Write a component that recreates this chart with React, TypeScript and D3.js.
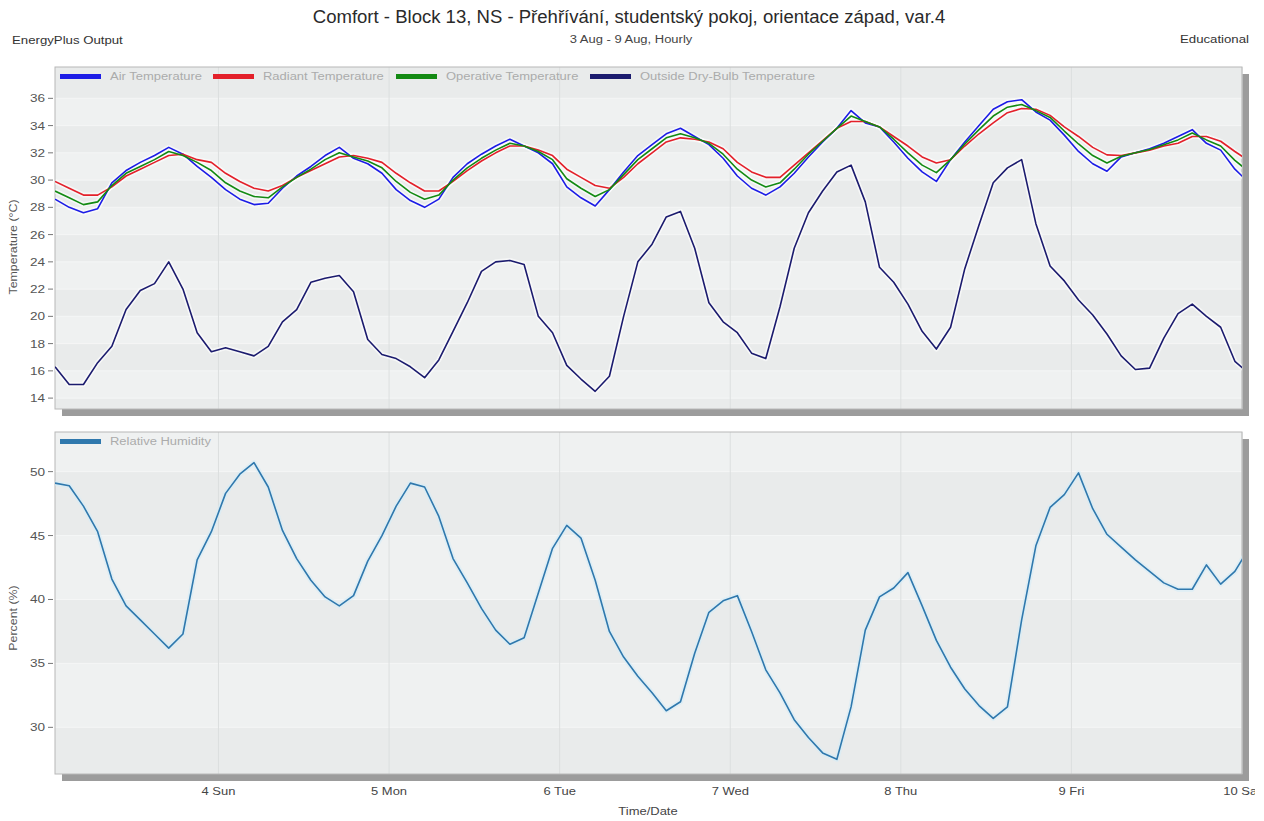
import React from "react";
import * as d3 from "d3";

// time axis: hourly run 3 Aug 01:00 .. 10 Aug 00:00, values read every 2 hours
const startDate = new Date(2013, 7, 3, 1, 0);
const endDate = new Date(2013, 7, 10, 0, 0);
const stepHours = 2;

const airTemp = [
  28.6, 28.0, 27.6, 27.9, 29.8, 30.7, 31.3, 31.8, 32.4, 31.9,
  31.0, 30.2, 29.3, 28.6, 28.2, 28.3, 29.4, 30.3, 31.0, 31.8,
  32.4, 31.6, 31.2, 30.5, 29.3, 28.5, 28.0, 28.6, 30.2, 31.2,
  31.9, 32.5, 33.0, 32.5, 32.0, 31.2, 29.5, 28.7, 28.1, 29.3,
  30.6, 31.8, 32.6, 33.4, 33.8, 33.2, 32.6, 31.6, 30.3, 29.4,
  28.9, 29.5, 30.5, 31.7, 32.8, 33.8, 35.1, 34.2, 33.9, 32.8,
  31.6, 30.6, 29.9, 31.5, 32.8, 34.0, 35.2, 35.75, 35.9, 35.0,
  34.4, 33.3, 32.1, 31.2, 30.65, 31.7, 32.0, 32.3, 32.7, 33.2,
  33.7, 32.7, 32.2, 30.8, 29.8,
];

const radiantTemp = [
  29.9, 29.4, 28.9, 28.9, 29.5, 30.3, 30.8, 31.3, 31.8, 31.9,
  31.5, 31.3, 30.5, 29.9, 29.4, 29.2, 29.6, 30.2, 30.7, 31.2,
  31.7, 31.8, 31.6, 31.3, 30.5, 29.8, 29.2, 29.2, 29.9, 30.7,
  31.4, 32.0, 32.5, 32.5, 32.2, 31.8, 30.8, 30.2, 29.6, 29.4,
  30.2, 31.2, 32.0, 32.8, 33.1, 33.0, 32.8, 32.3, 31.3, 30.6,
  30.2, 30.2, 31.1, 32.0, 32.9, 33.8, 34.3, 34.3, 33.9, 33.2,
  32.5, 31.7, 31.25, 31.5, 32.5, 33.4, 34.2, 34.95, 35.25, 35.2,
  34.75, 33.9, 33.2, 32.4, 31.85, 31.8, 32.0, 32.2, 32.5, 32.7,
  33.2, 33.2, 32.85, 32.1, 31.4,
];

const operativeTemp = [
  29.2, 28.7, 28.2, 28.4, 29.6, 30.5, 31.0, 31.5, 32.1, 31.8,
  31.3, 30.7, 29.8, 29.2, 28.8, 28.7, 29.5, 30.2, 30.8, 31.5,
  32.0, 31.7, 31.4, 30.9, 29.9, 29.1, 28.6, 28.9, 30.0, 30.9,
  31.6, 32.2, 32.7, 32.5, 32.1, 31.5, 30.1, 29.4, 28.8, 29.3,
  30.4, 31.5, 32.3, 33.1, 33.4, 33.1, 32.7, 31.9, 30.8, 30.0,
  29.5, 29.8, 30.8, 31.9, 32.85, 33.8, 34.7, 34.3, 33.9, 33.0,
  32.0, 31.1, 30.55, 31.5, 32.65, 33.7, 34.7, 35.35, 35.55, 35.1,
  34.6, 33.6, 32.65, 31.8, 31.25, 31.75, 32.0, 32.25, 32.6, 32.95,
  33.45, 32.95, 32.5, 31.45, 30.6,
];

const outsideTemp = [
  16.3, 15.0, 15.0, 16.6, 17.8, 20.5, 21.9, 22.4, 24.0, 22.0,
  18.8, 17.4, 17.7, 17.4, 17.1, 17.8, 19.6, 20.5, 22.5, 22.8,
  23.0, 21.8, 18.3, 17.2, 16.9, 16.3, 15.5, 16.8, 18.9, 21.0,
  23.3, 24.0, 24.1, 23.8, 20.0, 18.8, 16.4, 15.4, 14.5, 15.6,
  20.0, 24.0, 25.3, 27.3, 27.7, 25.0, 21.0, 19.6, 18.8, 17.3,
  16.9, 20.7, 25.0, 27.6, 29.2, 30.6, 31.1, 28.4, 23.6, 22.5,
  20.9, 18.9, 17.6, 19.2, 23.5, 26.7, 29.8, 30.9, 31.5, 26.8,
  23.7, 22.6, 21.2, 20.1, 18.7, 17.1, 16.1, 16.2, 18.4, 20.2,
  20.9, 20.0, 19.2, 16.7, 15.8,
];

const relHumidity = [
  49.1, 48.9, 47.3, 45.3, 41.6, 39.5, 38.4, 37.3, 36.2, 37.3,
  43.1, 45.3, 48.3, 49.8, 50.7, 48.8, 45.4, 43.2, 41.5, 40.2,
  39.5, 40.3, 43.0, 45.0, 47.3, 49.1, 48.8, 46.5, 43.2, 41.3,
  39.3, 37.6, 36.5, 37.0, 40.5, 44.0, 45.8, 44.8, 41.5, 37.5,
  35.5, 34.0, 32.7, 31.3, 32.0, 35.8, 39.0, 39.9, 40.3, 37.5,
  34.5, 32.7, 30.6, 29.2, 28.0, 27.5, 31.6, 37.6, 40.2, 40.9,
  42.1, 39.5, 36.8, 34.7, 33.0, 31.7, 30.7, 31.6, 38.4, 44.2,
  47.2, 48.2, 49.9, 47.1, 45.1, 44.1, 43.1, 42.2, 41.3, 40.8,
  40.8, 42.7, 41.2, 42.2, 44.0,
];

const tempTicks = [14, 16, 18, 20, 22, 24, 26, 28, 30, 32, 34, 36];
const rhTicks = [30, 35, 40, 45, 50];
const tempDomain = [13.2, 38.3];
const rhDomain = [26.35, 53.1];

const tempSeries = [
  { name: "Air Temperature", values: airTemp, color: "#1c1ce6" },
  { name: "Radiant Temperature", values: radiantTemp, color: "#e3202a" },
  { name: "Operative Temperature", values: operativeTemp, color: "#138a13" },
  { name: "Outside Dry-Bulb Temperature", values: outsideTemp, color: "#1b1b6e" },
];
const rhSeries = [{ name: "Relative Humidity", values: relHumidity, color: "#2f78ad" }];

const W = 1255;
const H = 821;
const left = 55;
const right = 1242;
const FONT = "'Liberation Sans', Arial, sans-serif";
const SX = 1.18;

const times = airTemp.map((_, i) => d3.timeHour.offset(startDate, i * stepHours));
const x = d3.scaleTime().domain([startDate, endDate]).range([left, right]);
const dayTicks = x.ticks(d3.timeDay.every(1));
const fmtDay = d3.timeFormat("%-d %a");

const SText = ({ x, y, size, fill = "#444", anchor = "start", rotate = 0, sx = SX, children }: any) => (
  <text
    transform={`translate(${x},${y}) rotate(${rotate}) scale(${sx},1)`}
    fontSize={size}
    fill={fill}
    textAnchor={anchor}
    fontFamily={FONT}
  >
    {children}
  </text>
);

const Panel = ({ id, top, bottom, domain, ticks, series, legendX, yTitle, titleY, halo }: any) => {
  const y = d3.scaleLinear().domain(domain).range([bottom, top]);
  const bounds = [domain[0], ...ticks, domain[1]];
  const line = d3
    .line<number>()
    .x((_, i) => x(times[i]))
    .y((d) => y(d));
  const w = right - left;
  const h = bottom - top;
  return (
    <g>
      <defs>
        <clipPath id={`clip-${id}`}>
          <rect x={left} y={top} width={w} height={h} />
        </clipPath>
      </defs>
      {/* drop shadow */}
      <rect x={left + 7} y={top + 7} width={w} height={h} fill="#9c9c9c" />
      <rect x={left} y={top} width={w} height={h} fill="#eceeee" />
      {bounds.slice(0, -1).map((b: number, i: number) => (
        <rect
          key={i}
          x={left}
          width={w}
          y={y(bounds[i + 1])}
          height={y(b) - y(bounds[i + 1])}
          fill={i % 2 === 0 ? "#e9ebeb" : "#eff1f1"}
        />
      ))}
      {ticks.map((t: number) => (
        <line key={t} x1={left} x2={right} y1={y(t)} y2={y(t)} stroke="#f5f6f6" strokeWidth={1} />
      ))}
      {dayTicks.map((d) => (
        <line key={+d} x1={x(d)} x2={x(d)} y1={top} y2={bottom} stroke="#dcdfdf" strokeWidth={1} />
      ))}
      <rect x={left} y={top} width={w} height={h} fill="none" stroke="#b8b8b8" strokeWidth={1} />
      {ticks.map((t: number) => (
        <g key={t}>
          <line x1={48} x2={53} y1={y(t)} y2={y(t)} stroke="#777" strokeWidth={1} />
          <SText x={45} y={y(t) + 4} size={11.5} fill="#555" anchor="end">
            {t}
          </SText>
        </g>
      ))}
      <SText x={17} y={titleY} size={10.5} fill="#555" anchor="middle" rotate={-90}>
        {yTitle}
      </SText>
      <g clipPath={`url(#clip-${id})`}>
        {series.map((s: any) => (
          <path
            key={s.name + "halo"}
            d={line(s.values) || ""}
            fill="none"
            stroke={halo}
            strokeOpacity={0.6}
            strokeWidth={5}
            strokeLinejoin="round"
          />
        ))}
        {series.map((s: any) => (
          <path
            key={s.name}
            d={line(s.values) || ""}
            fill="none"
            stroke={s.color}
            strokeWidth={1.6}
            strokeLinejoin="round"
          />
        ))}
      </g>
      {series.map((s: any, i: number) => (
        <g key={s.name}>
          <rect x={legendX[i]} y={top + 7} width={41} height={5} fill={s.color} />
          <SText x={legendX[i] + 50} y={top + 13} size={11} fill="#ababab">
            {s.name}
          </SText>
        </g>
      ))}
    </g>
  );
};

export default function App() {
  return (
    <div style={{ position: "absolute", left: 0, top: 0, background: "#fff" }}>
      <svg width={W} height={H} style={{ display: "block", background: "#fff" }}>
        <SText x={629} y={23} size={17.5} fill="#2a2a2a" anchor="middle" sx={1.06}>
          Comfort - Block 13, NS - Přehřívání, studentský pokoj, orientace západ, var.4
        </SText>
        <SText x={631} y={43} size={11} fill="#444" anchor="middle">
          3 Aug - 9 Aug, Hourly
        </SText>
        <SText x={12} y={44} size={11.2} fill="#333">
          EnergyPlus Output
        </SText>
        <SText x={1249} y={43} size={11.2} fill="#333" anchor="end">
          Educational
        </SText>
        <Panel
          id="temp"
          top={67}
          bottom={409}
          domain={tempDomain}
          ticks={tempTicks}
          series={tempSeries}
          legendX={[60, 213, 396, 590]}
          yTitle="Temperature (°C)"
          titleY={247}
          halo="#ffffff"
        />
        <Panel
          id="rh"
          top={432}
          bottom={774}
          domain={rhDomain}
          ticks={rhTicks}
          series={rhSeries}
          legendX={[60]}
          yTitle="Percent (%)"
          titleY={618}
          halo="#d4ecf8"
        />
        {dayTicks.map((d) => (
          <SText key={+d} x={x(d)} y={795} size={11} fill="#444" anchor="middle">
            {fmtDay(d)}
          </SText>
        ))}
        <SText x={648} y={815} size={11} fill="#444" anchor="middle">
          Time/Date
        </SText>
      </svg>
    </div>
  );
}
